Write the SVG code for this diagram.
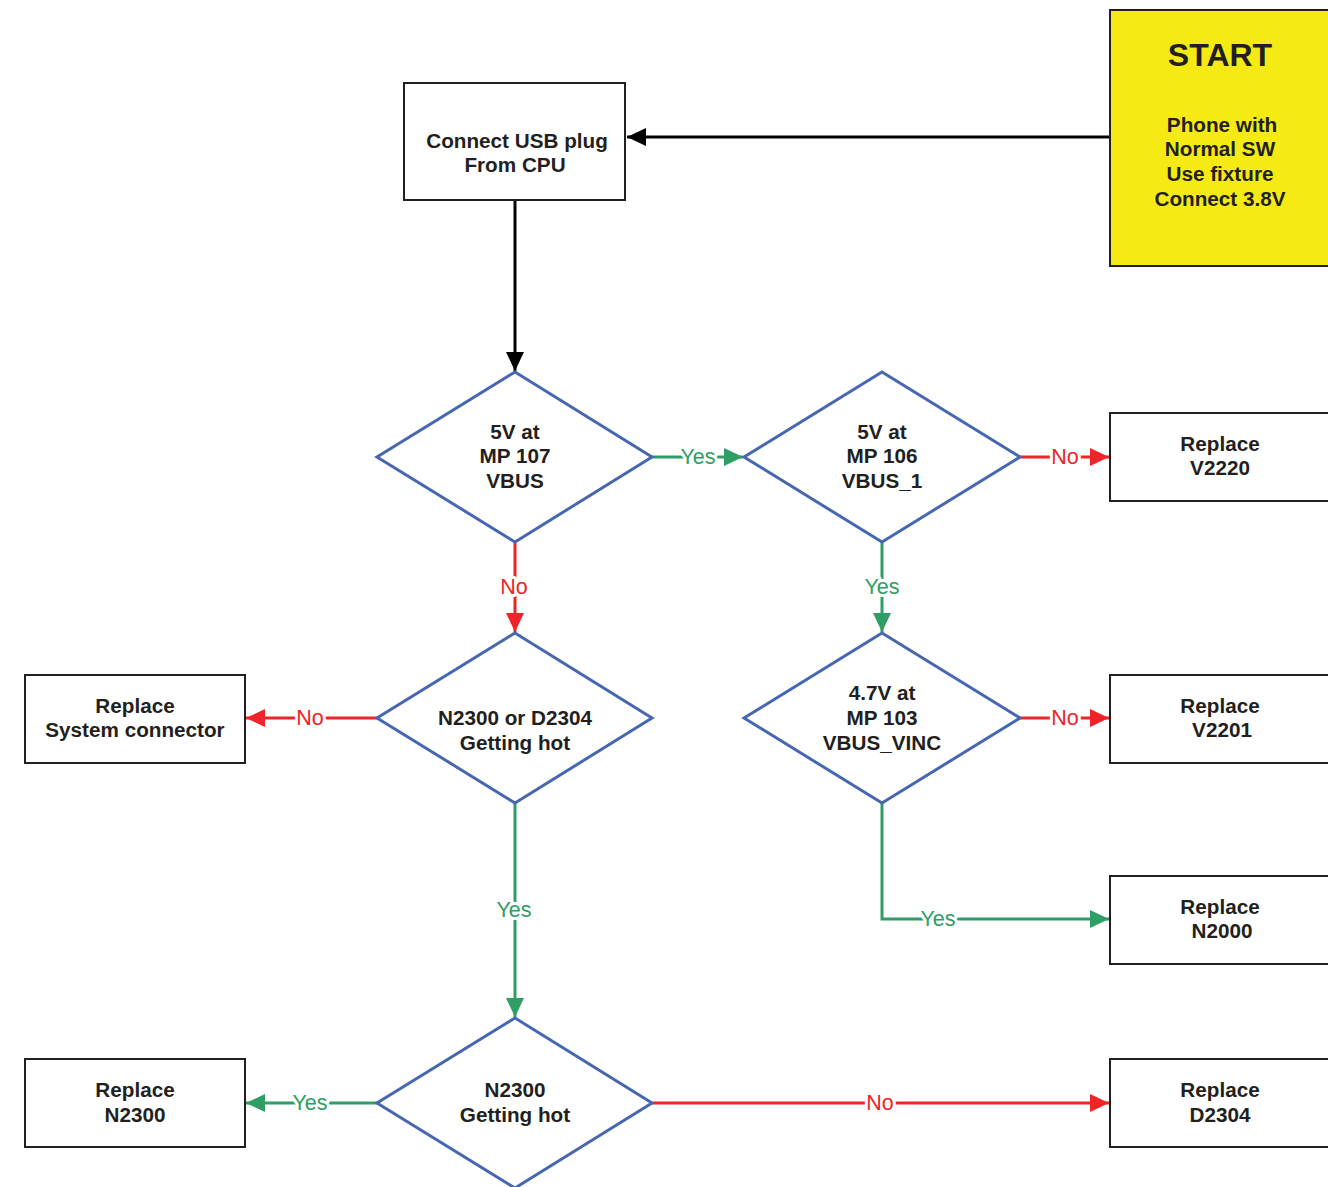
<svg xmlns="http://www.w3.org/2000/svg" width="1328" height="1187" viewBox="0 0 1328 1187">
<style>
.box{fill:#fff;stroke:#231F20;stroke-width:2}
.start{fill:#F5EA14;stroke:#231F20;stroke-width:2}
.dia{fill:#fff;stroke:#4767B2;stroke-width:3}
.t{font-family:"Liberation Sans",Arial,sans-serif;font-weight:bold;font-size:20.7px;fill:#231F20;text-anchor:middle}
.big{font-size:32px}
.lbl{font-family:"Liberation Sans",Arial,sans-serif;font-size:21.5px;text-anchor:middle;stroke:#fff;stroke-width:6px;paint-order:stroke;stroke-linejoin:round}
.k{fill:none;stroke:#000;stroke-width:3}
.g{fill:none;stroke:#2E9E64;stroke-width:3}
.r{fill:none;stroke:#EE2428;stroke-width:3}
.lg{fill:#2E9E64}
.lr{fill:#EE2428}
</style>
<defs>
<marker id="ak" markerUnits="userSpaceOnUse" markerWidth="22" markerHeight="20" refX="19" refY="9" orient="auto"><path d="M0,0 L19,9 L0,18 z" fill="#000"/></marker>
<marker id="ag" markerUnits="userSpaceOnUse" markerWidth="22" markerHeight="20" refX="19" refY="9" orient="auto"><path d="M0,0 L19,9 L0,18 z" fill="#2E9E64"/></marker>
<marker id="ar" markerUnits="userSpaceOnUse" markerWidth="22" markerHeight="20" refX="19" refY="9" orient="auto"><path d="M0,0 L19,9 L0,18 z" fill="#EE2428"/></marker>
</defs>
<rect width="1328" height="1187" fill="#fff"/>

<g id="connectors">
<path class="k" d="M1110,137 H627" marker-end="url(#ak)"/>
<path class="k" d="M515,200 V371" marker-end="url(#ak)"/>
<path class="g" d="M652,457 H743" marker-end="url(#ag)"/>
<path class="r" d="M1020,457 H1109" marker-end="url(#ar)"/>
<path class="r" d="M515,542 V632" marker-end="url(#ar)"/>
<path class="g" d="M882,542 V632" marker-end="url(#ag)"/>
<path class="r" d="M377,718 H246" marker-end="url(#ar)"/>
<path class="r" d="M1020,718 H1109" marker-end="url(#ar)"/>
<path class="g" d="M515,803 V1017" marker-end="url(#ag)"/>
<path class="g" d="M882,803 V919 H1109" marker-end="url(#ag)"/>
<path class="g" d="M377,1103 H246" marker-end="url(#ag)"/>
<path class="r" d="M652,1103 H1109" marker-end="url(#ar)"/>
<text class="lbl lg" x="698" y="464">Yes</text>
<text class="lbl lr" x="1065" y="464">No</text>
<text class="lbl lr" x="514" y="594">No</text>
<text class="lbl lg" x="882" y="594">Yes</text>
<text class="lbl lr" x="310" y="725">No</text>
<text class="lbl lr" x="1065" y="725">No</text>
<text class="lbl lg" x="514" y="917">Yes</text>
<text class="lbl lg" x="938" y="926">Yes</text>
<text class="lbl lg" x="310" y="1110">Yes</text>
<text class="lbl lr" x="880" y="1110">No</text>
</g>

<g id="start">
<rect class="start" x="1110" y="10" width="240" height="256"/>
<text class="t big" x="1220" y="66">START</text>
<text class="t" x="1222" y="132">Phone with</text>
<text class="t" x="1220" y="156">Normal SW</text>
<text class="t" x="1220" y="181">Use fixture</text>
<text class="t" x="1220" y="206">Connect 3.8V</text>
</g>

<g id="connect-usb">
<rect class="box" x="404" y="83" width="221" height="117"/>
<text class="t" x="517" y="148">Connect USB plug</text>
<text class="t" x="515" y="172">From CPU</text>
</g>

<g id="d-mp107">
<path class="dia" d="M515,372 L652,457 L515,542 L377,457 Z"/>
<text class="t" x="515" y="439">5V at</text>
<text class="t" x="515" y="463">MP 107</text>
<text class="t" x="515" y="488">VBUS</text>
</g>

<g id="d-mp106">
<path class="dia" d="M882,372 L1020,457 L882,542 L744,457 Z"/>
<text class="t" x="882" y="439">5V at</text>
<text class="t" x="882" y="463">MP 106</text>
<text class="t" x="882" y="488">VBUS_1</text>
</g>

<g id="r-v2220">
<rect class="box" x="1110" y="413" width="240" height="88"/>
<text class="t" x="1220" y="451">Replace</text>
<text class="t" x="1220" y="475">V2220</text>
</g>

<g id="d-hot1">
<path class="dia" d="M515,633 L652,718 L515,803 L377,718 Z"/>
<text class="t" x="515" y="725">N2300 or D2304</text>
<text class="t" x="515" y="750">Getting hot</text>
</g>

<g id="d-mp103">
<path class="dia" d="M882,633 L1020,718 L882,803 L744,718 Z"/>
<text class="t" x="882" y="700">4.7V at</text>
<text class="t" x="882" y="725">MP 103</text>
<text class="t" x="882" y="750">VBUS_VINC</text>
</g>

<g id="r-sysconn">
<rect class="box" x="25" y="675" width="220" height="88"/>
<text class="t" x="135" y="713">Replace</text>
<text class="t" x="135" y="737">System connector</text>
</g>

<g id="r-v2201">
<rect class="box" x="1110" y="675" width="240" height="88"/>
<text class="t" x="1220" y="713">Replace</text>
<text class="t" x="1222" y="737">V2201</text>
</g>

<g id="r-n2000">
<rect class="box" x="1110" y="876" width="240" height="88"/>
<text class="t" x="1220" y="914">Replace</text>
<text class="t" x="1222" y="938">N2000</text>
</g>

<g id="d-hot2">
<path class="dia" d="M515,1018 L652,1103 L515,1188 L377,1103 Z"/>
<text class="t" x="515" y="1097">N2300</text>
<text class="t" x="515" y="1122">Getting hot</text>
</g>

<g id="r-n2300">
<rect class="box" x="25" y="1059" width="220" height="88"/>
<text class="t" x="135" y="1097">Replace</text>
<text class="t" x="135" y="1122">N2300</text>
</g>

<g id="r-d2304">
<rect class="box" x="1110" y="1059" width="240" height="88"/>
<text class="t" x="1220" y="1097">Replace</text>
<text class="t" x="1220" y="1122">D2304</text>
</g>
</svg>
